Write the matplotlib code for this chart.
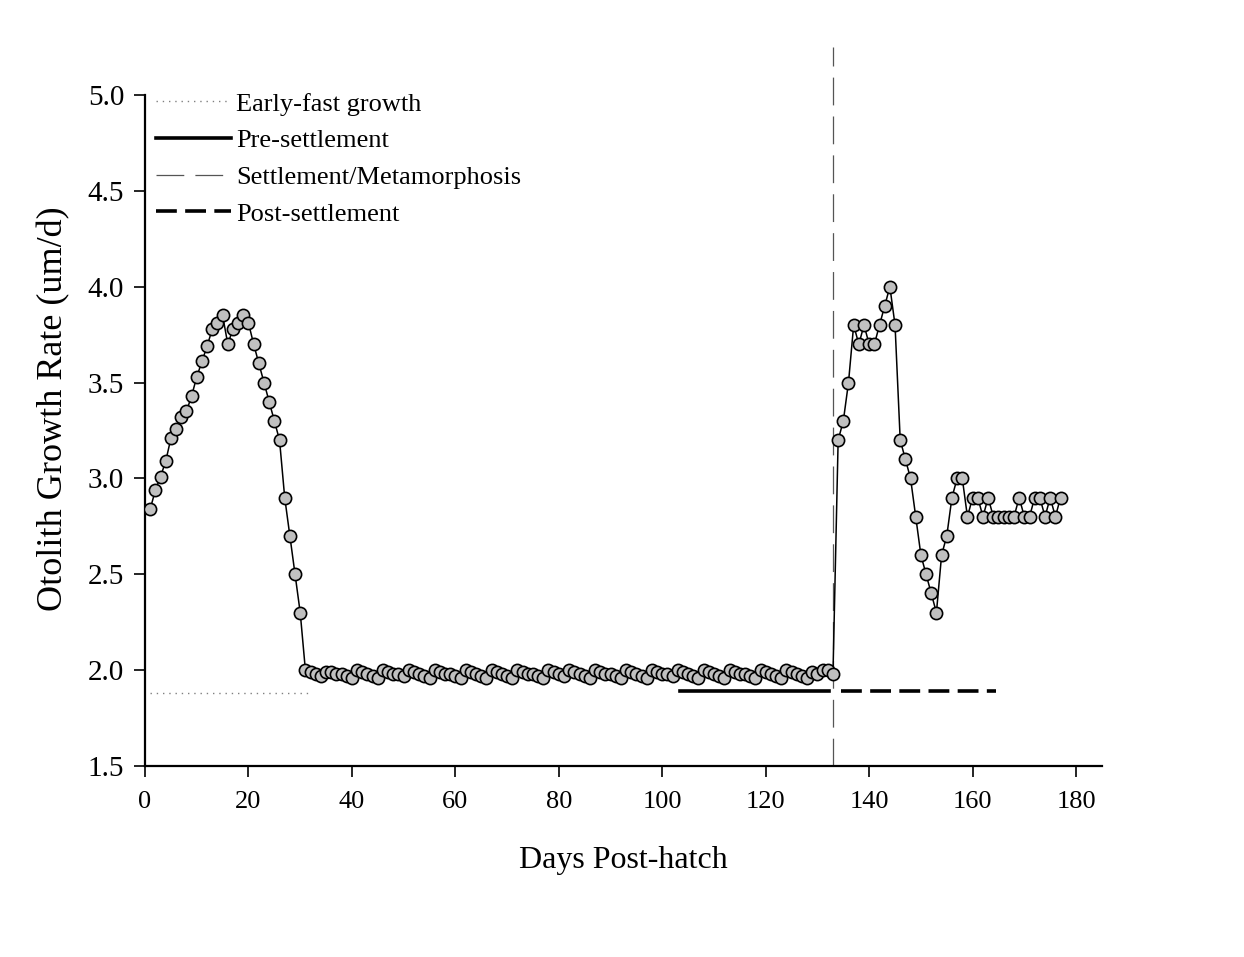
import matplotlib
matplotlib.use("Agg")
import matplotlib.pyplot as plt
import numpy as np

plt.rcParams["font.family"] = ["Liberation Serif", "DejaVu Serif"]
plt.rcParams["lines.scale_dashes"] = False

# daily otolith growth rate (um/d), days 1..177
rate_early = [2.84, 2.94, 3.01, 3.09, 3.21, 3.26, 3.32, 3.35, 3.43, 3.53,
              3.61, 3.69, 3.78, 3.81, 3.85, 3.70, 3.78, 3.81, 3.85, 3.81,
              3.70, 3.60, 3.50, 3.40, 3.30, 3.20, 2.90, 2.70, 2.50, 2.30,
              2.00]
rate_flat = [1.99, 1.98, 1.97, 1.99, 1.99, 1.98, 1.98, 1.97, 1.96, 2.00,
             1.99, 1.98, 1.97, 1.96, 2.00, 1.99, 1.98, 1.98, 1.97, 2.00,
             1.99, 1.98, 1.97, 1.96, 2.00, 1.99, 1.98, 1.98, 1.97, 1.96,
             2.00, 1.99, 1.98, 1.97, 1.96, 2.00, 1.99, 1.98, 1.97, 1.96,
             2.00, 1.99, 1.98, 1.98, 1.97, 1.96, 2.00, 1.99, 1.98, 1.97,
             2.00, 1.99, 1.98, 1.97, 1.96, 2.00, 1.99, 1.98, 1.98, 1.97,
             1.96, 2.00, 1.99, 1.98, 1.97, 1.96, 2.00, 1.99, 1.98, 1.98,
             1.97, 2.00, 1.99, 1.98, 1.97, 1.96, 2.00, 1.99, 1.98, 1.97,
             1.96, 2.00, 1.99, 1.98, 1.98, 1.97, 1.96, 2.00, 1.99, 1.98,
             1.97, 1.96, 2.00, 1.99, 1.98, 1.97, 1.96, 1.99, 1.98, 2.00,
             2.00, 1.98]
rate_post = [3.2, 3.3, 3.5, 3.8, 3.7, 3.8, 3.7, 3.7, 3.8, 3.9,
             4.0, 3.8, 3.2, 3.1, 3.0, 2.8, 2.6, 2.5, 2.4, 2.3,
             2.6, 2.7, 2.9, 3.0, 3.0, 2.8, 2.9, 2.9, 2.8, 2.9,
             2.8, 2.8, 2.8, 2.8, 2.8, 2.9, 2.8, 2.8, 2.9, 2.9,
             2.8, 2.9, 2.8, 2.9]
growth_rate = rate_early + rate_flat + rate_post
days = np.arange(1, len(growth_rate) + 1)

# life-history phase bars (start day, end day, level)
early_fast = (1, 31.5, 1.88)
pre_settle = (103.5, 132.3, 1.89)
post_settle = (134.5, 164.5, 1.89)
settle_day = 133

fig = plt.figure(figsize=(12.44, 9.57), dpi=100)
ax = fig.add_axes([0.1166, 0.1996, 0.7692, 0.7011])

ax.plot(days, growth_rate, color="black", lw=1.1, marker="o", ms=8.8,
        mfc="#c0c0c0", mec="black", mew=1.2, zorder=3)

ax.plot(early_fast[:2], [early_fast[2]] * 2, color="#808080", lw=1.0,
        linestyle=(0, (1, 3.5)), label="Early-fast growth")
ax.plot(pre_settle[:2], [pre_settle[2]] * 2, color="black", lw=2.6,
        label="Pre-settlement")
ax.plot([settle_day, settle_day], [1.5, 5.25], color="#555555", lw=0.9,
        linestyle=(0, (20, 8)), clip_on=False, label="Settlement/Metamorphosis")
ax.plot(post_settle[:2], [post_settle[2]] * 2, color="black", lw=2.6,
        linestyle=(0, (15, 6)), label="Post-settlement")

ax.set_xlim(0, 185)
ax.set_ylim(1.5, 5.0)
ax.set_xticks(np.arange(0, 181, 20))
ax.set_yticks(np.arange(1.5, 5.01, 0.5))
ax.yaxis.set_major_formatter(matplotlib.ticker.FormatStrFormatter("%.1f"))
ax.tick_params(direction="out", length=8, width=1.2)
ax.tick_params(axis="x", labelsize=19, pad=10)
ax.tick_params(axis="y", labelsize=21, pad=7)
for side in ["top", "right"]:
    ax.spines[side].set_visible(False)
for side in ["left", "bottom"]:
    ax.spines[side].set_linewidth(1.6)

ax.set_xlabel("Days Post-hatch", fontsize=23, labelpad=24)
ax.set_ylabel("Otolith Growth Rate (um/d)", fontsize=26)
ax.yaxis.set_label_coords(-0.078, 0.533)

handles, labels = ax.get_legend_handles_labels()
ax.legend(handles, labels, loc="upper left", frameon=False, fontsize=19,
          handlelength=2.85, handletextpad=0.2, labelspacing=0.5,
          borderaxespad=0.0, bbox_to_anchor=(0.0, 1.02))

fig.savefig("out.png", dpi=100)
